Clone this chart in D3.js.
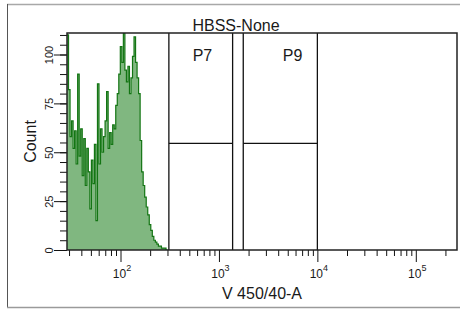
<!DOCTYPE html>
<html>
<head>
<meta charset="utf-8">
<script src="https://cdn.jsdelivr.net/npm/d3@7"></script>
<style>
  body { margin: 0; background: #fff; }
  text { font-family: "Liberation Sans", Arial, sans-serif; fill: #1a1a1a; }
</style>
</head>
<body>
<div id="hist"></div>
<script>
// histogram counts, 256 log bins over the axis range (only first bins have events)
var binCount = 256
var counts = [110, 82, 58, 66, 52, 61, 44, 90, 48, 62, 38, 57, 33, 52, 40, 21,
    46, 34, 54, 15, 85, 44, 62, 50, 58, 66, 81, 52, 60, 54, 64, 62,
    74, 80, 90, 104, 96, 111, 92, 86, 94, 80, 88, 99, 109, 96, 88, 80,
    56, 40, 33, 27, 22, 18, 13, 10, 7, 5, 4, 3, 2, 2, 1, 1, 1, 0]

var xRange = [28.6, 262144]
var yRange = [0, 111]
var xMajor = [100, 1000, 10000, 100000]
var xMajorExp = ["2", "3", "4", "5"]
var yMajor = [0, 25, 50, 75, 100]

// interval gates
var gateNames = ["P7", "P9"]
var gateLo = [310, 1766]
var gateHi = [1377, 10000]
var gateLevel = [54.5, 54.5]
var gateLabelX = [680, 5600]
var gateLabelY = [96.5, 96.5]

var title = "HBSS-None"
var xTitle = "V 450/40-A"
var yTitle = "Count"

var width = 460,
    height = 310,
    plotLeft = 67, plotRight = 457, plotTop = 33, plotBottom = 250

var svg = d3.select("#hist")
    .append("svg")
    .attr("width", width)
    .attr("height", height)

var x = d3.scaleLog().domain(xRange).range([plotLeft, plotRight])
var y = d3.scaleLinear().domain(yRange).range([plotBottom, plotTop])

// outer frame
svg.append("line").attr("x1", 7).attr("x2", width).attr("y1", 4.5).attr("y2", 4.5)
    .attr("stroke", "#a8a8a8").attr("stroke-width", 1.5)
svg.append("line").attr("x1", 7.5).attr("x2", 7.5).attr("y1", 4).attr("y2", 308)
    .attr("stroke", "#555").attr("stroke-width", 1)
svg.append("line").attr("x1", 7).attr("x2", width).attr("y1", 307.5).attr("y2", 307.5)
    .attr("stroke", "#9a9a9a").attr("stroke-width", 1.5)

svg.append("clipPath").attr("id", "plotclip")
    .append("rect")
    .attr("x", plotLeft).attr("y", plotTop)
    .attr("width", plotRight - plotLeft).attr("height", plotBottom - plotTop)

// bin edges in log space
var lo = Math.log10(xRange[0]), hi = Math.log10(xRange[1])
var points = counts.map(function(c, i) {
    return { v: Math.pow(10, lo + i * (hi - lo) / binCount), c: c }
})
points.push({ v: Math.pow(10, lo + counts.length * (hi - lo) / binCount), c: 0 })

var area = d3.area()
    .curve(d3.curveStepAfter)
    .x(function(d) { return x(d.v) })
    .y0(y(0))
    .y1(function(d) { return y(d.c) })

var outline = d3.line()
    .curve(d3.curveStepAfter)
    .x(function(d) { return x(d.v) })
    .y(function(d) { return y(d.c) })

var plot = svg.append("g").attr("clip-path", "url(#plotclip)")

plot.append("path")
    .datum(points)
    .attr("d", area)
    .attr("fill", "#80b780")

plot.append("path")
    .datum(points)
    .attr("d", outline)
    .attr("fill", "none")
    .attr("stroke", "#137513")
    .attr("stroke-width", 1.2)

// gates
gateNames.forEach(function(name, i) {
    var g = svg.append("g").attr("class", "gate")
    g.append("line")
        .attr("x1", x(gateLo[i])).attr("x2", x(gateLo[i]))
        .attr("y1", plotTop).attr("y2", plotBottom)
    g.append("line")
        .attr("x1", x(gateHi[i])).attr("x2", x(gateHi[i]))
        .attr("y1", plotTop).attr("y2", plotBottom)
    g.append("line")
        .attr("x1", x(gateLo[i])).attr("x2", x(gateHi[i]))
        .attr("y1", y(gateLevel[i])).attr("y2", y(gateLevel[i]))
    g.selectAll("line").attr("stroke", "#111").attr("stroke-width", 1.3)
    g.append("text")
        .attr("x", x(gateLabelX[i]))
        .attr("y", y(gateLabelY[i]))
        .attr("text-anchor", "middle")
        .attr("font-size", 16)
        .text(name)
})

// x axis ticks
var xMinor = []
for (var e = 1; e <= 5; e++) {
    for (var m = 2; m <= 9; m++) {
        var v = m * Math.pow(10, e)
        if (v > xRange[0] && v < xRange[1]) xMinor.push(v)
    }
}

var xMinorAxis = svg.append("g")
    .attr("transform", "translate(0," + plotBottom + ")")
    .call(d3.axisBottom(x).tickValues(xMinor).tickSize(6).tickSizeOuter(0).tickFormat(""))
var xMajorAxis = svg.append("g")
    .attr("transform", "translate(0," + plotBottom + ")")
    .call(d3.axisBottom(x).tickValues(xMajor).tickSize(12).tickSizeOuter(0).tickFormat(""))

xMajorAxis.selectAll(".tick").each(function(d, i) {
    var t = d3.select(this).append("text")
        .attr("y", 28)
        .attr("x", 1)
        .attr("text-anchor", "middle")
        .attr("font-size", 12)
        .attr("fill", "#1a1a1a")
    t.append("tspan").text("10")
    t.append("tspan").attr("font-size", 9).attr("dy", -7).text(xMajorExp[i])
})

// y axis ticks
var yMinorAxis = svg.append("g")
    .attr("transform", "translate(" + plotLeft + ",0)")
    .call(d3.axisLeft(y).tickValues(d3.range(0, 111, 5)).tickSize(7).tickSizeOuter(0).tickFormat(""))
var yMajorAxis = svg.append("g")
    .attr("transform", "translate(" + plotLeft + ",0)")
    .call(d3.axisLeft(y).tickValues(yMajor).tickSize(13).tickSizeOuter(0))

yMajorAxis.selectAll(".tick text")
    .attr("x", 0).attr("dy", 0)
    .attr("transform", "translate(-14,0) rotate(-90)")
    .attr("text-anchor", "middle")
    .attr("font-size", 11)
    .attr("fill", "#1a1a1a")

svg.selectAll(".domain").remove()
svg.selectAll(".tick line").attr("stroke", "#111")

// plot frame
svg.append("rect")
    .attr("x", plotLeft).attr("y", plotTop)
    .attr("width", plotRight - plotLeft).attr("height", plotBottom - plotTop)
    .attr("fill", "none")
    .attr("stroke", "#222")
    .attr("stroke-width", 1.5)

// titles
svg.append("text")
    .attr("x", 236).attr("y", 30.5)
    .attr("text-anchor", "middle")
    .attr("font-size", 16)
    .text(title)

svg.append("text")
    .attr("x", (plotLeft + plotRight) / 2).attr("y", 299)
    .attr("text-anchor", "middle")
    .attr("font-size", 16)
    .text(xTitle)

svg.append("text")
    .attr("transform", "translate(36," + (plotTop + plotBottom) / 2 + ") rotate(-90)")
    .attr("text-anchor", "middle")
    .attr("font-size", 16)
    .text(yTitle)
</script>
</body>
</html>
